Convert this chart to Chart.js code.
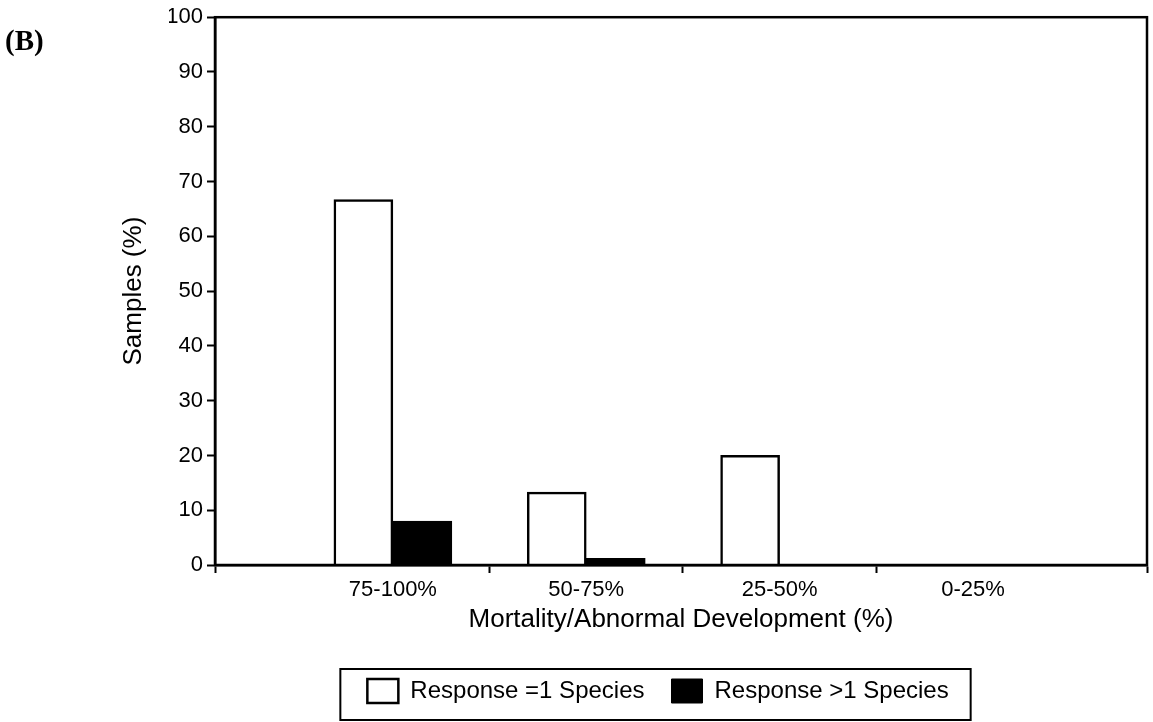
<!DOCTYPE html>
<html>
<head>
<meta charset="utf-8">
<script src="https://cdn.jsdelivr.net/npm/chart.js@4.4.1/dist/chart.umd.min.js"></script>
<style>
  html, body { margin: 0; padding: 0; background: #fff; }
  #wrap { width: 1153px; height: 722px; position: relative; }
</style>
</head>
<body>
<div id="wrap"><canvas id="c" width="1153" height="722"></canvas></div>
<script>
const categories = ['75-100%', '50-75%', '25-50%', '0-25%'];
const responseOne = [66.7, 13.3, 20, 0];
const responseMore = [8, 1.2, 0, 0];
const yTickValues = [0, 10, 20, 30, 40, 50, 60, 70, 80, 90, 100];
const seriesNames = ['Response =1 Species', 'Response >1 Species'];

const FONT = '"Liberation Sans", Arial, Helvetica, sans-serif';
const X_MIN = 0.08, X_MAX = 4.9;

const toPoints = arr => arr.map((v, i) => ({ x: i + 1, y: v }));

const framePlugin = {
  id: 'frame',
  afterDraw(chart) {
    const { ctx, chartArea: a } = chart;
    ctx.save();
    ctx.strokeStyle = '#000';
    ctx.lineWidth = 2.5;
    ctx.strokeRect(a.left, a.top, a.right - a.left, a.bottom - a.top);
    const lg = chart.legend;
    if (lg && lg.legendHitBoxes && lg.legendHitBoxes.length) {
      const hb = lg.legendHitBoxes;
      const first = hb[0], last = hb[hb.length - 1];
      const l = first.left - 27, r = last.left + last.width + 22;
      const t = first.top - 10, b = first.top + first.height + 17;
      ctx.lineWidth = 2;
      ctx.strokeRect(l, t, r - l, b - t);
    }
    ctx.fillStyle = '#000';
    ctx.font = 'bold 29px "Liberation Serif", "Times New Roman", serif';
    ctx.textAlign = 'left';
    ctx.textBaseline = 'middle';
    ctx.fillText('(B)', 5, 43);
    ctx.restore();
  }
};

new Chart(document.getElementById('c'), {
  type: 'bar',
  data: {
    datasets: [
      {
        label: seriesNames[0],
        data: toPoints(responseOne),
        backgroundColor: '#ffffff',
        borderColor: '#000000',
        borderWidth: 2.5,
        barThickness: 59
      },
      {
        label: seriesNames[1],
        data: toPoints(responseMore),
        backgroundColor: '#000000',
        borderColor: '#000000',
        borderWidth: 1,
        barThickness: 59
      }
    ]
  },
  options: {
    responsive: false,
    animation: false,
    devicePixelRatio: 1,
    layout: { padding: { left: 169, right: 6, top: 15, bottom: 9 } },
    plugins: {
      tooltip: { enabled: false },
      legend: {
        position: 'bottom',
        labels: {
          color: '#000',
          font: { family: FONT, size: 24 },
          boxWidth: 31,
          boxHeight: 24,
          padding: 27
        }
      }
    },
    scales: {
      x: {
        type: 'linear',
        offset: false,
        min: X_MIN,
        max: X_MAX,
        afterBuildTicks(scale) {
          const vals = [X_MIN];
          categories.forEach((c, i) => {
            vals.push(i + 1);
            if (i < categories.length - 1) vals.push(i + 1.5);
          });
          vals.push(X_MAX);
          scale.ticks = vals.map(v => ({ value: v }));
        },
        afterFit(scale) { scale.height = 87; },
        ticks: {
          autoSkip: false,
          maxRotation: 0,
          minRotation: 0,
          padding: 4,
          color: '#000',
          font: { family: FONT, size: 22 },
          callback: (v) => Number.isInteger(v) ? categories[v - 1] : ''
        },
        grid: {
          offset: false,
          drawOnChartArea: false,
          drawTicks: true,
          tickLength: 8,
          tickWidth: 2,
          tickColor: (ctx) => (ctx.tick && Number.isInteger(ctx.tick.value)) ? 'rgba(0,0,0,0)' : '#000'
        },
        border: { display: true, color: '#000', width: 2.5 },
        title: {
          display: true,
          text: 'Mortality/Abnormal Development (%)',
          color: '#000',
          font: { family: FONT, size: 26 },
          padding: { top: 0, bottom: 17 }
        }
      },
      y: {
        min: 0,
        max: 100,
        afterBuildTicks(scale) { scale.ticks = yTickValues.map(v => ({ value: v })); },
        afterFit(scale) { scale.width = 46; },
        ticks: {
          padding: 4,
          color: '#000',
          font: { family: FONT, size: 22 }
        },
        grid: {
          drawOnChartArea: false,
          drawTicks: true,
          tickLength: 8,
          tickWidth: 2,
          tickColor: '#000'
        },
        border: { display: true, color: '#000', width: 2.5 },
        title: {
          display: true,
          text: 'Samples (%)',
          color: '#000',
          font: { family: FONT, size: 26 },
          padding: { top: -51, bottom: 0 }
        }
      }
    }
  },
  plugins: [framePlugin]
});
</script>
</body>
</html>
